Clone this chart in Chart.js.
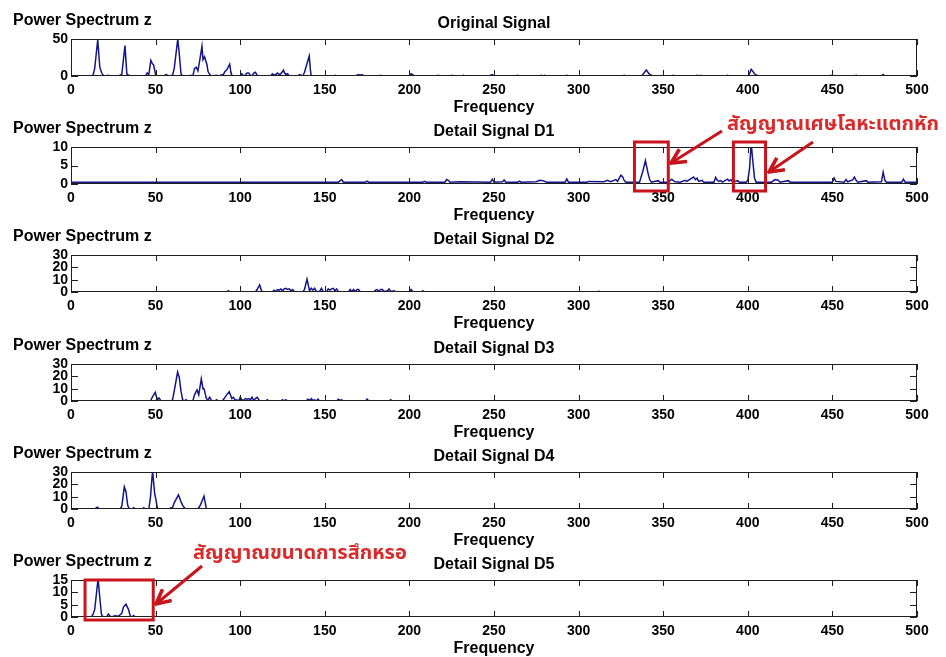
<!DOCTYPE html>
<html>
<head>
<meta charset="utf-8">
<script src="https://cdn.jsdelivr.net/npm/chart.js@4"></script>
<style>
  body { margin: 0; background: #fff; }
  #page { position: relative; width: 946px; height: 657px; overflow: hidden; font-family: "Liberation Sans", Arial, sans-serif; }
  canvas { position: absolute; left: 0; }
  .lbl { position: absolute; font-weight: bold; font-size: 16px; line-height: 16px; white-space: nowrap; color: #000; }
  .ttl { transform: translateX(-50%); }
  .thai { position: absolute; color: #d92b2b; font-size: 20px; font-weight: bold; line-height: 20px; white-space: nowrap; font-family: "Noto Sans Thai", "Noto Sans", "DejaVu Sans", sans-serif; }
  svg { position: absolute; left: 0; top: 0; }
</style>
</head>
<body>
<div id="page"></div>
<script>
// tick labels / titles
const xTicks = [0, 50, 100, 150, 200, 250, 300, 350, 400, 450, 500];
const panelTitles = ["Original Signal", "Detail Signal D1", "Detail Signal D2", "Detail Signal D3", "Detail Signal D4", "Detail Signal D5"];
const yMax = [50, 10, 30, 30, 30, 15];
const yStep = [50, 5, 10, 10, 10, 5];

// [frequency, power]
const original = [[0,0],[12,0],[13,1],[14,10],[15.8,49],[17,12],[18,5],[19,1],[20,0],[21,0],[22,1],[23,0],[28,0],[29,1],[30,2],[31.9,41],[33,3],[34,1],[35,0],
  [44,0],[45,4],[46,2],[47.2,21],[48,17],[48.8,15],[50,2],[51,0],[55,0],[56,2],[57,1],[58,0],[60,1],[61,10],[63.1,50],[64,30],[65,3],[66,0],
  [70,0],[71,1],[72,0],[73,10],[74,12],[75,7],[76,20],[77.4,40],[78,22],[78.9,26],[80.3,16],[81,6],[82,2],[83,0],[86,1],[87,0],
  [90,2],[91,6],[92,8],[93.8,16],[94.5,5],[95,1],[96,0],[100,0],[101,3],[102,0],[103,1],[104,4],[105,4],[106,1],[107,0],[108,4],[109,5],[110,1],[111,0],
  [118,0],[119,3],[120,1],[121,2],[122,4],[123,2],[124,3],[125.6,8],[126,5],[127,2],[128,3],[129,0],[134,0],[135,2],[136,1],[137,0],[138,5],[140.8,27],[141.5,8],[142,0],
  [155,0],[156,1],[157,0],[168,0],[169,1],[170,2],[171,1],[172,2],[173,0],[182,0],[183,1],[184,0],[200,0],[201,3],[202,2],[203,0],
  [216,0],[217,1],[218,0],[224,0],[225,1],[226,0],[231,0],[232,1],[233,0],[247,0],[248,1],[249,2],[250,0],[263,0],[264,1],[265,0],
  [277,0],[278,1],[279,0],[280,1],[281,0],[292,0],[293,1],[294,0],[326,0],[327,1],[328,0],[337,0],[338,2],[340,8],[342,2],[344,0],
  [355,0],[356,1],[357,0],[369,0],[370,1],[371,0],[372,1],[373,0],[387,0],[388,1],[389,0],[400,0],[401,3],[402,9],[404,3],[406,0],
  [448,0],[449,1],[450,0],[463,0],[464,1],[465,0],[479,0],[480,2],[481,0],[500,0]];

const detailD1 = [[0,0.5],[158,0.5],[160,1.2],[161,0.5],[174,0.5],[175,0.8],[176,0.5],[208,0.5],[209,0.7],[210,0.5],[221,0.5],[222,1.2],[223,1.0],[224,0.5],[230,0.6],
  [248,0.5],[249,1.3],[250,0.5],[255,0.6],[256,1.1],[257,0.5],[264,0.5],[265,0.8],[266,0.5],[275,0.6],[277,1.0],[279,0.9],[281,0.5],[292,0.5],[293,1.4],[294,0.5],
  [305,0.5],[306,0.7],[315,0.6],[317,1.0],[319,0.6],[322,1.2],[323,0.7],[325,2.4],[326,2.0],[327,0.9],[328,0.5],[336,0.5],[338,3.5],[339.5,6.3],[341,3.0],[342,1.2],[343,0.5],
  [347,0.9],[348,0.5],[353,0.5],[355,1.3],[356,0.9],[357,0.6],[360,0.5],[363,1.0],[364,0.7],[366,1.3],[368,1.9],[369,1.2],[370,1.6],[371,0.7],[373,1.0],[374,0.5],
  [380,0.5],[381,1.8],[382,1.0],[383,0.7],[384,0.9],[385,0.5],[388,1.3],[389,0.8],[390,1.2],[391,0.5],[394,0.9],[395,0.5],[399,0.5],[400,1.0],[401,4],[402,11],[403,6],[404,1.5],[405,0.5],
  [414,0.5],[416,1.2],[418,1.0],[419,0.5],[424,0.9],[425,0.5],[432,0.5],[450,0.5],[451,1.6],[452,0.7],[457,0.5],[458,1.2],[459,0.6],[462,1.1],[463,1.9],[464,1.0],[465,0.5],
  [470,0.9],[471,0.5],[479,0.6],[480,3.2],[481,1.0],[482,0.5],[491,0.5],[492,1.3],[493,0.5],[500,0.5]];

const detailD2 = [[0,0],[92,0],[93,1],[94,0],[109,0],[110,2],[111.5,5.7],[112.5,1.5],[113,0],[119,0],[120,1.5],[121,0.5],[122,2],[123,1.5],[124,2.5],[125,1],[126,2.5],[127,3],[128,2],
  [129,2.5],[130,1],[131,2],[132,0.5],[134,0],[137,0],[138,2],[139.5,10.5],[140.5,4],[141,1],[142,3],[143,1.5],[144,3],[145,0.5],[147,0.5],[148,3],[149,0.5],[151,0],
  [152,2.5],[153,1.5],[154,2.5],[155,3],[156,1],[157,2.5],[158,0.5],[160,0],[164,0],[165,2],[166,0.5],[167,2],[168,0],[169,2],[170,2],[171,0],[179,0],[180,1.5],[181,2],
  [182,0.5],[183,2],[184,2],[185,0.5],[187,1],[188,2.5],[189,0.5],[191,1],[192,0],[200,0],[201,2],[202,0.5],[203,0],[207,0],[208,1],[209,0],[311,0],[312,0.6],[313,0],[500,0]];

const detailD3 = [[0,0],[47,0],[48,3],[49.8,7],[51,1],[52,2.5],[53,0.5],[54,0],[59,0],[60,1],[61,8],[63,23.5],[64,19],[65,8],[66,1],[67,0],[68,1],[69,0],
  [72,0],[73,5],[74.5,9],[75.5,5],[77,18],[78,10],[78.6,10],[79.5,5],[80,2],[81,1],[82,3],[83,0.5],[85,0],[86,1],[87,0],[89,0],[90,1],[91,3],[92,5],[93.5,7.5],[94.5,4],
  [95,2],[96,3],[97,0.5],[98,1],[99,0],[100,3],[101,1],[102,0.5],[103,2],[104,1.5],[105,2],[106,1],[107,3],[108,0.5],[109,2],[110,3],[111,1],[112,0],
  [115,0],[116,1],[117,0],[124,0],[125,1],[126,0],[127,1],[128,0],[139,0],[140,1.5],[141,0.5],[142,2],[143,0.5],[144,1],[145,0],[146,1.5],[147,0],
  [157,0],[158,1.5],[159,0.5],[160,1],[161,0],[174,0],[175,1.5],[176,0],[188,0],[189,1],[190,0],[500,0]];

const detailD4 = [[0,0],[14,0],[15.5,1.5],[17,0],[29,0],[30,2],[31.5,18],[32.5,14],[33.5,3],[34.5,0],[36,0],[37,1],[38,0],[42,0],[43,1],[44,0],
  [46,0],[47,10],[48.2,31],[49.5,12],[50,9],[51,1],[52,0],[58,0],[59,1],[60,1],[61,5],[63.5,11.5],[65,6],[66,3],[67,1],[68,0],
  [75,0],[76,2],[77,5],[78.6,10.5],[79.5,4],[80,0],[500,0]];

const detailD5 = [[0,0],[12,0],[13,1],[14,3],[16,15.5],[17,8],[18,1],[19,0],[21,0],[22,1.2],[23,0.5],[24,0],[26,0.5],[28,0.3],[30,1.5],[31,4],[32.5,5.2],[34,3],[35,0.5],[36,0],[37,0.6],[38,0],[500,0]];

const series = [original, detailD1, detailD2, detailD3, detailD4, detailD5];

// red marker boxes, in frequency units
const markBoxes = [[], [[333, 353], [391.5, 410.5]], [], [], [], [[8.3, 48.6]]];

const page = document.getElementById("page");
const top0 = 39, step = 108.2, plotH = 37;

function addLabel(text, x, y, cls) {
  const d = document.createElement("div");
  d.className = cls;
  d.textContent = text;
  d.style.left = x + "px";
  d.style.top = y + "px";
  page.appendChild(d);
}

const frame = {
  id: "frame",
  afterDraw(chart) {
    const { ctx, chartArea: a, scales: { x, y } } = chart;
    const opts = chart.options.plugins.frame;
    ctx.save();
    ctx.strokeStyle = "#1e1e1e";
    ctx.lineWidth = 1;
    ctx.strokeRect(a.left + 0.5, a.top + 0.5, a.width - 1, a.height - 1);
    ctx.beginPath();
    x.ticks.forEach(t => {
      const px = Math.round(x.getPixelForValue(t.value)) + 0.5;
      ctx.moveTo(px, a.top); ctx.lineTo(px, a.top + 6);
      ctx.moveTo(px, a.bottom); ctx.lineTo(px, a.bottom - 6);
    });
    y.ticks.forEach(t => {
      const py = Math.round(y.getPixelForValue(t.value)) + 0.5;
      ctx.moveTo(a.left, py); ctx.lineTo(a.left + 7, py);
      ctx.moveTo(a.right, py); ctx.lineTo(a.right - 7, py);
    });
    ctx.stroke();
    ctx.strokeStyle = "#c8141c";
    ctx.lineWidth = 3;
    (opts.boxes || []).forEach(b => {
      const x0 = x.getPixelForValue(b[0]), x1 = x.getPixelForValue(b[1]);
      ctx.strokeRect(x0, a.top - opts.padTop, x1 - x0, a.height + opts.padTop + opts.padBottom);
    });
    ctx.restore();
  }
};

const font = { family: "'Liberation Sans', Arial, sans-serif", size: 14, weight: "bold" };

series.forEach((data, i) => {
  const T = Math.round(top0 + step * i);
  const cv = document.createElement("canvas");
  cv.width = 946; cv.height = 120;
  cv.style.top = (T - 40) + "px";
  page.appendChild(cv);

  addLabel("Power Spectrum z", 13, T - 27, "lbl");
  addLabel(panelTitles[i], 494, T - 24, "lbl ttl");
  addLabel("Frequency", 494, T + 60, "lbl ttl");

  new Chart(cv, {
    type: "line",
    data: {
      datasets: [{
        data: data.map(p => ({ x: p[0], y: p[1] })),
        borderColor: "#15158a",
        borderWidth: 1.5,
        pointRadius: 0,
        tension: 0
      }]
    },
    options: {
      responsive: false,
      animation: false,
      devicePixelRatio: 1,
      layout: { padding: { top: 40, left: 0, right: 29, bottom: 10 } },
      plugins: {
        legend: { display: false },
        tooltip: { enabled: false },
        frame: { boxes: markBoxes[i], padTop: i === 5 ? 0 : 5, padBottom: i === 5 ? 3 : 7 }
      },
      scales: {
        x: {
          type: "linear", min: 0, max: 500,
          afterBuildTicks: s => { s.ticks = xTicks.map(v => ({ value: v })); },
          ticks: { autoSkip: false, maxRotation: 0, padding: 6, color: "#000", font: font },
          grid: { display: false, drawTicks: false },
          border: { display: false },
          afterFit: s => { s.height = 33; }
        },
        y: {
          min: 0, max: yMax[i],
          ticks: { stepSize: yStep[i], autoSkip: false, padding: 3, color: "#000", font: font },
          grid: { display: false, drawTicks: false },
          border: { display: false },
          afterFit: s => { s.width = 71; }
        }
      }
    },
    plugins: [frame]
  });
});

// red annotation texts
const t1 = document.createElement("div");
t1.className = "thai"; t1.textContent = "สัญญาณเศษโลหะแตกหัก";
t1.style.left = "727px"; t1.style.top = "114px";
page.appendChild(t1);
const t2 = document.createElement("div");
t2.className = "thai"; t2.textContent = "สัญญาณขนาดการสึกหรอ";
t2.style.left = "193px"; t2.style.top = "543px";
page.appendChild(t2);

// arrows pointing at the red boxes
const svgNS = "http://www.w3.org/2000/svg";
const svg = document.createElementNS(svgNS, "svg");
svg.setAttribute("width", 946); svg.setAttribute("height", 657);
svg.innerHTML = `
  <defs><marker id="ah" viewBox="0 0 10 10" refX="9" refY="5" markerWidth="6" markerHeight="6" orient="auto">
    <path d="M1,1 L9,5 L1,9" fill="none" stroke="#c8141c" stroke-width="2"/></marker></defs>
  <g stroke="#c8141c" stroke-width="3" fill="none" marker-end="url(#ah)">
    <line x1="722" y1="131" x2="671" y2="163"/>
    <line x1="813" y1="142" x2="769" y2="172"/>
    <line x1="202" y1="566" x2="156" y2="604"/>
  </g>`;
page.appendChild(svg);
</script>
</body>
</html>
